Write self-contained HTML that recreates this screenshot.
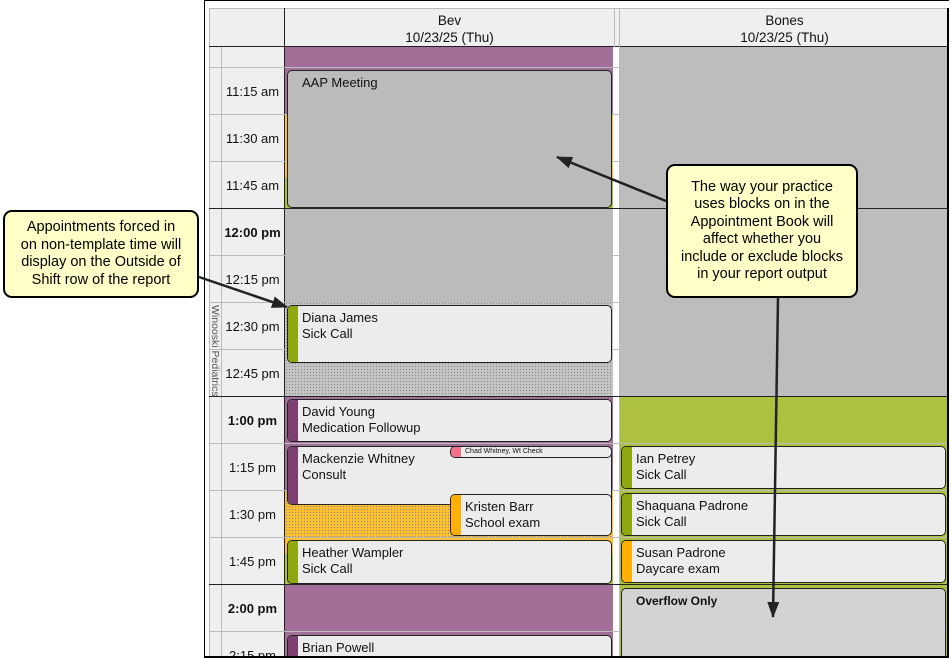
<!DOCTYPE html>
<html><head><meta charset="utf-8"><style>
*{margin:0;padding:0;box-sizing:border-box}
html,body{width:951px;height:658px;overflow:hidden;background:#fff}
#w{position:relative;width:951px;height:658px;overflow:hidden;font-family:"Liberation Sans",sans-serif}
.a{position:absolute}
.t{position:absolute;left:221px;width:63px;text-align:center;font-size:13px;color:#111}
.ap{position:absolute;background:#ececec;border:1.5px solid #222;border-radius:5px;overflow:hidden;font-size:13px;color:#111;line-height:16px;padding:4px 0 0 14px}
.ap i{position:absolute;left:0;top:0;bottom:0;width:10px}
.dot{background-image:radial-gradient(#888 0.7px,transparent 0.8px);background-size:3px 3px}
.hl{position:absolute;left:209px;width:740px;height:1px;background:#bbb}
.hh{position:absolute;left:209px;width:740px;height:1px;background:#222}
.call{position:absolute;background:#ffffc8;border:2.5px solid #000;border-radius:9px;text-align:center;font-size:14.5px;line-height:17.5px;color:#000;display:flex;align-items:center;justify-content:center}
</style></head><body><div id="w">
<div class="a" style="left:209px;top:8px;width:740px;height:39px;background:#efefef;border-top:1px solid #bbb"></div>
<div class="a" style="left:209px;top:47px;width:76px;height:611px;background:#efefef"></div>
<div class="a" style="left:209px;top:8px;width:1px;height:650px;background:#bbb"></div>
<div class="a" style="left:221px;top:47px;width:1px;height:611px;background:#bbb"></div>
<div class="a" style="left:284px;top:8px;width:1px;height:650px;background:#222"></div>
<div class="a" style="left:209px;top:46px;width:740px;height:1px;background:#222"></div>
<div class="a" style="left:614px;top:8px;width:1px;height:650px;background:#bbb"></div>
<div class="a" style="left:619px;top:8px;width:1px;height:650px;background:#bbb"></div>
<div class="a" style="left:285px;top:12px;width:329px;text-align:center;font-size:13.5px;line-height:17px;color:#111">Bev<br>10/23/25 (Thu)</div>
<div class="a" style="left:620px;top:12px;width:329px;text-align:center;font-size:13.5px;line-height:17px;color:#111">Bones<br>10/23/25 (Thu)</div>
<div class="a" style="left:285px;top:47px;width:328px;height:67px;background:#a26f99"></div>
<div class="a" style="left:285px;top:114px;width:328px;height:64px;background:#ffc030"></div>
<div class="a" style="left:285px;top:178px;width:328px;height:30px;background:#adc040"></div>
<div class="a" style="left:285px;top:208px;width:328px;height:94px;background:#bbb"></div>
<div class="a dot" style="left:285px;top:302px;width:328px;height:94px;background-color:#c4c4c4"></div>
<div class="a" style="left:285px;top:396px;width:328px;height:94px;background:#a26f99"></div>
<div class="a dot" style="left:285px;top:490px;width:328px;height:47px;background-color:#ffc030"></div>
<div class="a" style="left:285px;top:537px;width:328px;height:17px;background:#ffc030"></div>
<div class="a" style="left:285px;top:554px;width:328px;height:30px;background:#adc040"></div>
<div class="a" style="left:285px;top:584px;width:328px;height:74px;background:#a26f99"></div>
<div class="a" style="left:613px;top:47px;width:6px;height:611px;background:#fff"></div>
<div class="a" style="left:620px;top:47px;width:327px;height:349px;background:#bdbdbd"></div>
<div class="a" style="left:620px;top:396px;width:327px;height:262px;background:#adc040"></div>
<div class="hl" style="top:67px"></div><div class="hl" style="top:114px"></div><div class="hl" style="top:161px"></div>
<div class="hh" style="top:208px"></div><div class="hl" style="top:255px"></div><div class="hl" style="top:302px"></div><div class="hl" style="top:349px"></div>
<div class="hh" style="top:396px"></div><div class="hl" style="top:443px"></div><div class="hl" style="top:490px"></div><div class="hl" style="top:537px"></div>
<div class="hh" style="top:584px"></div><div class="hl" style="top:631px"></div>
<div class="t" style="top:84px">11:15 am</div><div class="t" style="top:131px">11:30 am</div><div class="t" style="top:178px">11:45 am</div>
<div class="t" style="top:225px;font-weight:bold">12:00 pm</div><div class="t" style="top:272px">12:15 pm</div><div class="t" style="top:319px">12:30 pm</div><div class="t" style="top:366px">12:45 pm</div>
<div class="t" style="top:413px;font-weight:bold">1:00 pm</div><div class="t" style="top:460px">1:15 pm</div><div class="t" style="top:507px">1:30 pm</div><div class="t" style="top:554px">1:45 pm</div>
<div class="t" style="top:601px;font-weight:bold">2:00 pm</div><div class="t" style="top:648px">2:15 pm</div>
<div class="a" style="left:209px;top:305px;width:12px;height:95px;"><div style="position:absolute;left:12px;top:0;transform-origin:0 0;transform:rotate(90deg);white-space:nowrap;font-size:10.5px;color:#555">Winooski Pediatrics</div></div>
<div class="ap" style="left:287px;top:70px;width:325px;height:138px;background:#bbb">AAP Meeting</div>
<div class="ap" style="left:287px;top:305px;width:325px;height:58px"><i style="background:#8fa812"></i>Diana James<br>Sick Call</div>
<div class="ap" style="left:287px;top:399px;width:325px;height:43px"><i style="background:#7b3f72"></i>David Young<br>Medication Followup</div>
<div class="ap" style="left:287px;top:446px;width:325px;height:59px"><i style="background:#7b3f72"></i>Mackenzie Whitney<br>Consult</div>
<div class="ap" style="left:450px;top:446px;width:162px;height:12px;padding:0 0 0 14px;font-size:7px;line-height:9px"><i style="background:#f07088"></i>Chad Whitney, Wt Check</div>
<div class="ap" style="left:450px;top:494px;width:162px;height:42px"><i style="background:#ffb000"></i>Kristen Barr<br>School exam</div>
<div class="ap" style="left:287px;top:540px;width:325px;height:44px"><i style="background:#8fa812"></i>Heather Wampler<br>Sick Call</div>
<div class="ap" style="left:287px;top:635px;width:325px;height:40px"><i style="background:#7b3f72"></i>Brian Powell</div>
<div class="ap" style="left:621px;top:446px;width:325px;height:43px"><i style="background:#8fa812"></i>Ian Petrey<br>Sick Call</div>
<div class="ap" style="left:621px;top:493px;width:325px;height:43px"><i style="background:#8fa812"></i>Shaquana Padrone<br>Sick Call</div>
<div class="ap" style="left:621px;top:540px;width:325px;height:43px"><i style="background:#ffb000"></i>Susan Padrone<br>Daycare exam</div>
<div class="ap" style="left:621px;top:588px;width:325px;height:80px;background:#d3d3d3;font-weight:bold;font-size:12px">Overflow Only</div>
<div class="a" style="left:204px;top:0;width:745px;height:658px;border:1.5px solid #000;border-right:none;border-bottom:2px solid #000"></div>
<div class="a" style="left:947px;top:8px;width:1.5px;height:650px;background:#000"></div>
<div class="call" style="left:3px;top:210px;width:196px;height:88px">Appointments forced in<br>on non-template time will<br>display on the Outside of<br>Shift row of the report</div>
<div class="call" style="left:666px;top:164px;width:192px;height:134px">The way your practice<br>uses blocks on in the<br>Appointment Book will<br>affect whether you<br>include or exclude blocks<br>in your report output</div>
<svg class="a" style="left:0;top:0" width="951" height="658">
<defs><marker id="m2" markerWidth="16" markerHeight="12" refX="15" refY="6" orient="auto" markerUnits="userSpaceOnUse"><path d="M0,0 L16,6 L0,12 z" fill="#222"/></marker></defs>
<line x1="199" y1="277" x2="287" y2="307" stroke="#222" stroke-width="2.5" marker-end="url(#m2)"/>
<line x1="666" y1="201" x2="557" y2="157" stroke="#222" stroke-width="2.5" marker-end="url(#m2)"/>
<line x1="778" y1="298" x2="773" y2="617" stroke="#222" stroke-width="2.5" marker-end="url(#m2)"/>
</svg>
</div></body></html>
